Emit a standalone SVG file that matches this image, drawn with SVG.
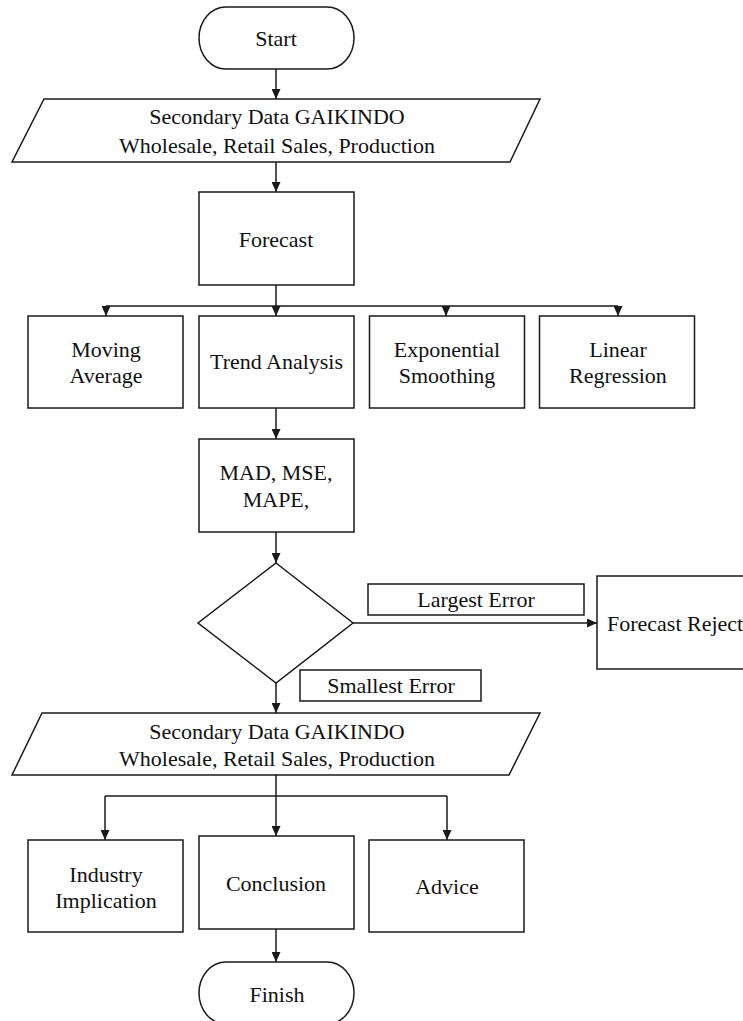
<svg xmlns="http://www.w3.org/2000/svg" width="743" height="1021" viewBox="0 0 743 1021">
<style>
.s{fill:#fff;stroke:#1a1a1a;stroke-width:1.5}
.t{font-family:"Liberation Serif","Times New Roman",serif;font-size:22px;fill:#111;text-anchor:middle}
.c{fill:none;stroke:#1a1a1a;stroke-width:1.5}
</style>
<defs>
<marker id="ah" markerUnits="userSpaceOnUse" markerWidth="10" markerHeight="9" refX="10" refY="4.5" orient="auto">
<path d="M0,0 L10,4.5 L0,9 z" fill="#1a1a1a"/>
</marker>
</defs>
<rect width="743" height="1021" fill="#fff"/>
<g id="connectors">
<line class="c" x1="276" y1="69" x2="276" y2="99" marker-end="url(#ah)"/>
<line class="c" x1="276" y1="162" x2="276" y2="192" marker-end="url(#ah)"/>
<line class="c" x1="276" y1="285" x2="276" y2="306"/>
<line class="c" x1="106" y1="306" x2="618" y2="306"/>
<line class="c" x1="106" y1="306" x2="106" y2="316" marker-end="url(#ah)"/>
<line class="c" x1="276" y1="306" x2="276" y2="316" marker-end="url(#ah)"/>
<line class="c" x1="446" y1="306" x2="446" y2="316" marker-end="url(#ah)"/>
<line class="c" x1="618" y1="306" x2="618" y2="316" marker-end="url(#ah)"/>
<line class="c" x1="276" y1="408" x2="276" y2="439" marker-end="url(#ah)"/>
<line class="c" x1="276" y1="532" x2="276" y2="563" marker-end="url(#ah)"/>
<line class="c" x1="352" y1="623" x2="597" y2="623" marker-end="url(#ah)"/>
<line class="c" x1="276" y1="683" x2="276" y2="713" marker-end="url(#ah)"/>
<line class="c" x1="276" y1="775" x2="276" y2="836" marker-end="url(#ah)"/>
<line class="c" x1="105" y1="796" x2="447" y2="796"/>
<line class="c" x1="105" y1="796" x2="105" y2="840" marker-end="url(#ah)"/>
<line class="c" x1="447" y1="796" x2="447" y2="840" marker-end="url(#ah)"/>
<line class="c" x1="276" y1="929" x2="276" y2="962" marker-end="url(#ah)"/>
</g>
<g id="start">
<rect class="s" x="199" y="7" width="155" height="62" rx="27" ry="31"/>
<text class="t" x="276" y="46">Start</text>
</g>
<g id="data1">
<polygon class="s" points="44,99 540,99 510,162 12,162"/>
<text class="t" x="277" y="124">Secondary Data GAIKINDO</text>
<text class="t" x="277" y="153">Wholesale, Retail Sales, Production</text>
</g>
<g id="forecast">
<rect class="s" x="199" y="192" width="155" height="93"/>
<text class="t" x="276" y="247">Forecast</text>
</g>
<g id="moving-average">
<rect class="s" x="28" y="316" width="155" height="92"/>
<text class="t" x="106" y="357">Moving</text>
<text class="t" x="106" y="383">Average</text>
</g>
<g id="trend-analysis">
<rect class="s" x="199" y="316" width="155" height="92"/>
<text class="t" x="276.5" y="369">Trend Analysis</text>
</g>
<g id="exponential-smoothing">
<rect class="s" x="369.5" y="316" width="155" height="92"/>
<text class="t" x="447" y="357">Exponential</text>
<text class="t" x="447" y="383">Smoothing</text>
</g>
<g id="linear-regression">
<rect class="s" x="539.5" y="316" width="155" height="92"/>
<text class="t" x="618" y="357">Linear</text>
<text class="t" x="618" y="383">Regression</text>
</g>
<g id="error-measures">
<rect class="s" x="199" y="439" width="155" height="93"/>
<text class="t" x="276" y="480">MAD, MSE,</text>
<text class="t" x="276" y="507">MAPE,</text>
</g>
<g id="decision">
<polygon class="s" points="276,563 353,623 276,683 198,623"/>
</g>
<g id="largest-error">
<rect class="s" x="368" y="584" width="216" height="31"/>
<text class="t" x="476" y="607">Largest Error</text>
</g>
<g id="forecast-reject">
<rect class="s" x="597" y="576" width="170" height="93"/>
<text class="t" x="607" y="631" style="text-anchor:start">Forecast Reject</text>
</g>
<g id="smallest-error">
<rect class="s" x="300" y="670" width="181" height="31"/>
<text class="t" x="391" y="693">Smallest Error</text>
</g>
<g id="data2">
<polygon class="s" points="42,713 540,713 509,775 12,775"/>
<text class="t" x="277" y="739">Secondary Data GAIKINDO</text>
<text class="t" x="277" y="766">Wholesale, Retail Sales, Production</text>
</g>
<g id="industry-implication">
<rect class="s" x="28" y="840" width="155" height="92"/>
<text class="t" x="106" y="882">Industry</text>
<text class="t" x="106" y="908">Implication</text>
</g>
<g id="conclusion">
<rect class="s" x="199" y="836" width="155" height="93"/>
<text class="t" x="276" y="891">Conclusion</text>
</g>
<g id="advice">
<rect class="s" x="369" y="840" width="155" height="92"/>
<text class="t" x="447" y="894">Advice</text>
</g>
<g id="finish">
<rect class="s" x="199" y="962" width="155" height="62" rx="27" ry="31"/>
<text class="t" x="277" y="1002">Finish</text>
</g>
</svg>
